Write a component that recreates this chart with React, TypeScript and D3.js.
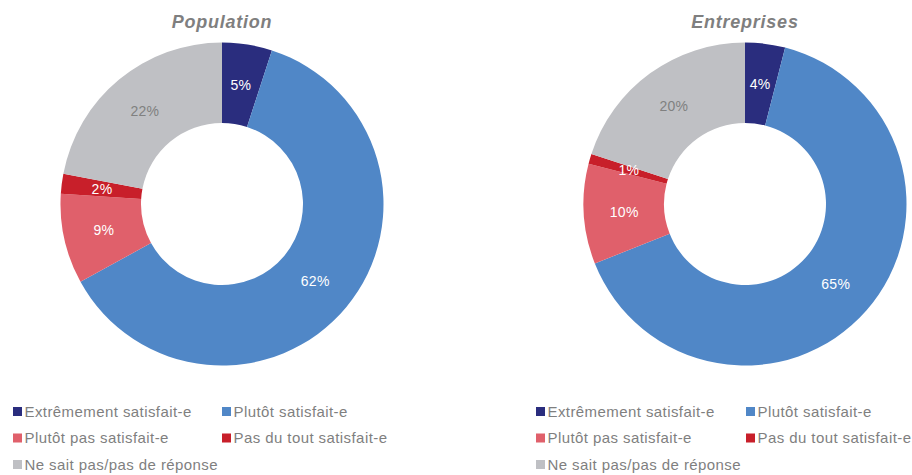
import React from "react";
import * as d3 from "d3";

const categories = [
  "Extrêmement satisfait-e",
  "Plutôt satisfait-e",
  "Plutôt pas satisfait-e",
  "Pas du tout satisfait-e",
  "Ne sait pas/pas de réponse",
];
const colors = ["#2a2d7e", "#5087c7", "#e0606b", "#c81f2a", "#bfc0c4"];
const labelColors = ["#ffffff", "#ffffff", "#ffffff", "#ffffff", "#808080"];
const populationValues = [5, 62, 9, 2, 22];
const entreprisesValues = [4, 65, 10, 1, 20];
const titles = ["Population", "Entreprises"];

const FONT = "'Liberation Sans', Arial, Helvetica, sans-serif";

function Donut({ cx, cy, values, title }: { cx: number; cy: number; values: number[]; title: string }) {
  const outer = 161.5;
  const inner = 81;
  const pie = d3.pie<number>().sort(null).value((d) => d);
  const arcs = pie(values);
  const arcGen = d3.arc<d3.PieArcDatum<number>>().innerRadius(inner).outerRadius(outer);
  const labelArc = d3.arc<d3.PieArcDatum<number>>().innerRadius(121).outerRadius(121);
  return (
    <g>
      <text x={cx} y={28} textAnchor="middle" fontFamily={FONT} fontSize={18} fontWeight="bold" fontStyle="italic" fill="#7f7f7f" letterSpacing={0.75}>
        {title}
      </text>
      <g transform={`translate(${cx},${cy})`}>
        {arcs.map((a, i) => (
          <path key={i} d={arcGen(a) || ""} fill={colors[i]} />
        ))}
        {arcs.map((a, i) => {
          const [x, y] = labelArc.centroid(a);
          return (
            <text key={"l" + i} x={x} y={y} dy="0.36em" textAnchor="middle" fontFamily={FONT} fontSize={14} letterSpacing={0.3} fill={labelColors[i]}>
              {values[i]}%
            </text>
          );
        })}
      </g>
    </g>
  );
}

function Legend({ x0, x1 }: { x0: number; x1: number }) {
  const rows = [411.5, 438, 464.5];
  return (
    <g>
      {categories.map((c, i) => {
        const col = i % 2;
        const row = Math.floor(i / 2);
        const x = col === 0 ? x0 : x1;
        const y = rows[row];
        return (
          <g key={i}>
            <rect x={x} y={y - 4.5} width={9} height={9} fill={colors[i]} />
            <text x={x + 11.5} y={y} dy="0.36em" fontFamily={FONT} fontSize={15} letterSpacing={0.42} fill="#7f7f7f">
              {c}
            </text>
          </g>
        );
      })}
    </g>
  );
}

export default function App() {
  return (
    <svg width={912} height={475} style={{ position: "absolute", left: 0, top: 0, background: "#fff" }}>
      <Donut cx={222} cy={204} values={populationValues} title={titles[0]} />
      <Donut cx={745} cy={204} values={entreprisesValues} title={titles[1]} />
      <Legend x0={13} x1={222} />
      <Legend x0={536} x1={746} />
    </svg>
  );
}
